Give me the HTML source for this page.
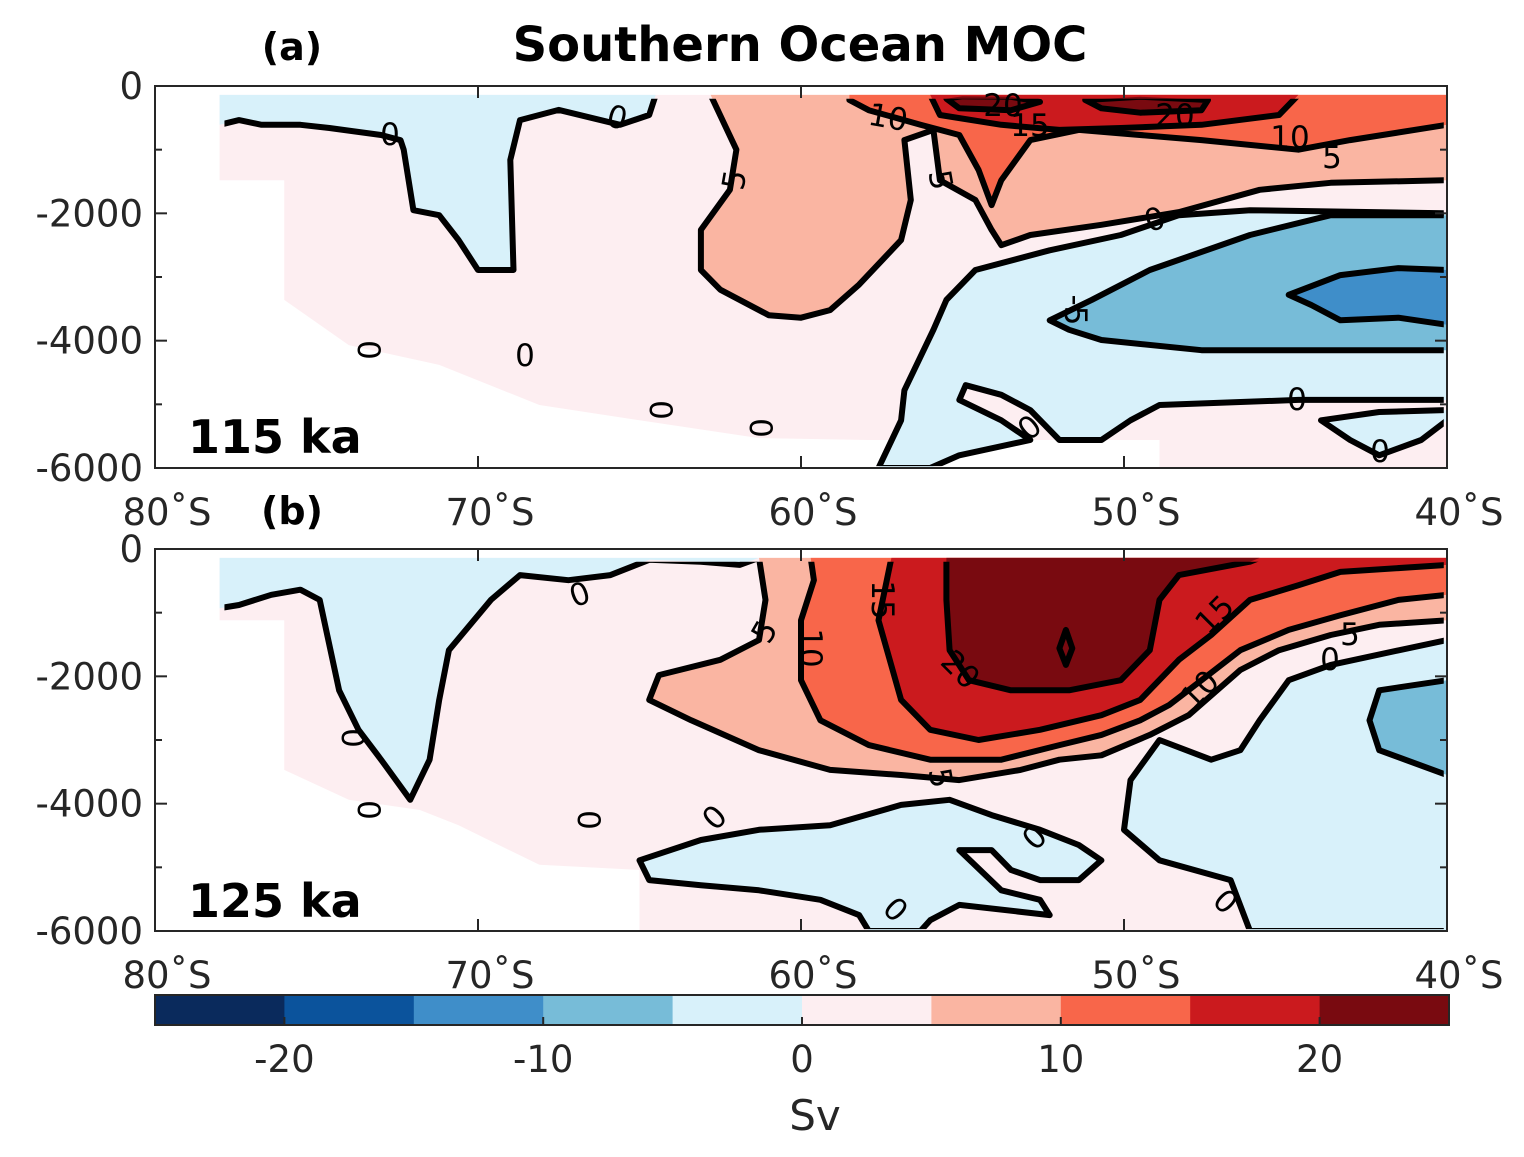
<!DOCTYPE html>
<html><head><meta charset="utf-8">
<style>
html,body{margin:0;padding:0;background:#fff;}
svg{display:block;font-family:"DejaVu Sans","Liberation Sans",sans-serif;}
</style></head>
<body>
<svg id="chart" width="1524" height="1157" viewBox="0 0 1524 1157">
<g id="panelA"></g>
<g id="panelB"></g>
<g id="cbar"></g>
<text x="800" y="61" font-size="48" font-weight="bold" text-anchor="middle">Southern Ocean MOC</text>
<text x="292" y="60" font-size="38" font-weight="bold" text-anchor="middle">(a)</text>
<text x="292" y="524" font-size="38" font-weight="bold" text-anchor="middle">(b)</text>
<text x="188" y="453" font-size="46" font-weight="bold">115 ka</text>
<text x="188" y="917" font-size="46" font-weight="bold">125 ka</text>
<text x="815" y="1130" font-size="42" fill="#262626" text-anchor="middle">Sv</text>
</svg>
<script>
// ---- data ----
const levels = [-25,-20,-15,-10,-5,0,5,10,15,20,25];
const levelColors = ['#0a2a5c','#0b539c','#3f8ec9','#77bcd8','#d8f1fa','#fdeef1','#fab5a2','#f8664a','#cb1a1e','#790a10'];
const xTicks = [-80,-70,-60,-50,-40];
const xTickLabels = ['80˚S','70˚S','60˚S','50˚S','40˚S'];
const yTicks = [0,-2000,-4000,-6000];
const cbTicks = [-20,-10,0,10,20];

const aPink = [[-78,-140],[-40,-140],[-40,-6000],[-48.9,-6000],[-48.9,-5560],[-57.9,-5560],[-61.3,-5530],[-65,-5250],[-68.1,-5010],[-71.2,-4380],[-74,-4070],[-76,-3360],[-76,-1480],[-78,-1480]];
const aBlueTL = [[-78,-140],[-64.5,-140],[-64.7,-455],[-65.6,-610],[-67.5,-375],[-68.7,-535],[-69,-1160],[-68.9,-2890],[-70,-2890],[-70.6,-2420],[-71.2,-2030],[-72,-1950],[-72.3,-1000],[-72.4,-850],[-73,-770],[-74.6,-660],[-75.5,-610],[-76.7,-610],[-77.4,-535],[-78,-610]];
const aSalmon = [[-62.8,-140],[-62,-1000],[-62.2,-1630],[-63.1,-2260],[-63.1,-2890],[-62.5,-3200],[-61,-3600],[-60,-3640],[-59.1,-3520],[-58.2,-3120],[-56.9,-2420],[-56.6,-1790],[-56.8,-850],[-55.9,-690],[-55.7,-1480],[-54.6,-1790],[-54.1,-2260],[-53.8,-2500],[-52.9,-2340],[-50.7,-2180],[-48.3,-1980],[-45.8,-1630],[-43.6,-1520],[-40,-1480],[-40,-140]];
const aRed = [[-58.5,-140],[-58.5,-220],[-57.9,-380],[-56.3,-610],[-55.1,-770],[-54.5,-1320],[-54.1,-1870],[-53.8,-1480],[-52.9,-850],[-51.4,-690],[-47.6,-850],[-44.6,-1000],[-43,-850],[-40,-610],[-40,-140]];
const aDark = [[-56,-140],[-55.7,-455],[-53.8,-610],[-52,-690],[-50.1,-660],[-47.6,-610],[-45.2,-455],[-44.6,-140]];
const aDarkest = [[-55.5,-200],[-55.1,-350],[-53.5,-380],[-52.6,-250],[-53.5,-170],[-55,-160]];
const aDarkest2 = [[-51.2,-220],[-50.7,-350],[-49.5,-420],[-47.6,-380],[-47.4,-220],[-49.5,-170]];
const aBlueR = [[-57.6,-6000],[-56.9,-5250],[-56.8,-4780],[-55.9,-3830],[-55.5,-3360],[-54.6,-2890],[-52.3,-2580],[-50.1,-2340],[-48.3,-2030],[-46.1,-1950],[-40,-2000],[-40,-4930],[-44.6,-4930],[-48.9,-5010],[-49.8,-5250],[-50.7,-5560],[-52,-5560],[-52.9,-5090],[-53.8,-4850],[-54.9,-4700],[-55.1,-4930],[-53.8,-5250],[-52.9,-5560],[-55.1,-5800],[-56,-6000]];
const aBlueBR = [[-43.9,-5250],[-43,-5560],[-42.1,-5800],[-40.8,-5560],[-40,-5250],[-40,-5090],[-42.1,-5120]];
const aMidBlue = [[-52.3,-3680],[-51,-3360],[-49.2,-2890],[-46.1,-2340],[-43.6,-2030],[-40,-2030],[-40,-4150],[-43,-4150],[-47.6,-4150],[-50.7,-3990],[-51.7,-3830]];
const aDeepBlue = [[-44.9,-3280],[-43.3,-2970],[-41.5,-2860],[-40,-2890],[-40,-3750],[-41.5,-3640],[-43.3,-3680],[-44.2,-3440]];

const bPink = [[-78,-140],[-40,-140],[-40,-6000],[-65,-6000],[-65,-5040],[-68.1,-4960],[-70.6,-4340],[-71.8,-4100],[-74,-3940],[-76,-3470],[-76,-1120],[-78,-1120]];
const bBlueTL = [[-78,-140],[-61.3,-140],[-61.9,-250],[-63.1,-200],[-64.7,-170],[-65.9,-410],[-67.2,-490],[-68.7,-410],[-69.6,-800],[-70.9,-1590],[-71.2,-2370],[-71.5,-3310],[-72.1,-3940],[-73,-3310],[-73.7,-2840],[-74.3,-2220],[-74.9,-800],[-75.5,-640],[-76.4,-720],[-77.4,-880],[-78,-930]];
const bSalmon = [[-61.3,-140],[-61.1,-800],[-61.3,-1430],[-62.5,-1740],[-64.4,-1980],[-64.7,-2370],[-63.4,-2690],[-61.3,-3160],[-59.1,-3470],[-56.9,-3550],[-55.1,-3630],[-53.2,-3470],[-52,-3310],[-50.7,-3240],[-49.2,-2920],[-48,-2610],[-46.4,-1900],[-45.2,-1590],[-43.6,-1350],[-42.1,-1190],[-40,-1120],[-40,-140]];
const bRed = [[-59.7,-140],[-59.6,-490],[-60,-1120],[-60,-2060],[-59.4,-2690],[-57.9,-3080],[-56,-3310],[-53.8,-3310],[-52,-3080],[-50.7,-2920],[-49.5,-2690],[-48.6,-2450],[-47.6,-2060],[-46.4,-1590],[-44.9,-1270],[-43.3,-1040],[-41.5,-800],[-40,-720],[-40,-140]];
const bDark = [[-57.2,-140],[-57.6,-1120],[-56.9,-2370],[-56,-2840],[-54.5,-3000],[-52.6,-2840],[-50.7,-2610],[-49.5,-2370],[-48.3,-1740],[-47.3,-1350],[-46.1,-800],[-44.6,-570],[-43.3,-360],[-40,-250],[-40,-140]];
const bDarkest = [[-55.5,-140],[-55.5,-800],[-55.4,-1590],[-54.8,-2060],[-53.5,-2220],[-51.7,-2220],[-50.1,-2060],[-49.2,-1590],[-48.9,-800],[-48.3,-410],[-46.1,-200],[-45.8,-140]];
const bDiamond = [[-51.8,-1270],[-51.6,-1560],[-51.8,-1820],[-52,-1560]];
const bBlueR = [[-40,-1430],[-43.6,-1820],[-44.9,-2060],[-45.8,-2690],[-46.4,-3160],[-47.3,-3310],[-48.9,-3000],[-49.8,-3630],[-50,-4410],[-48.9,-4890],[-46.7,-5200],[-46.1,-6000],[-40,-6000]];
const bMidBlue = [[-40,-2060],[-42.1,-2220],[-42.4,-2690],[-42.1,-3160],[-40,-3550]];
const bBlueBot = [[-65,-4890],[-63.1,-4570],[-61.3,-4410],[-59.1,-4340],[-56.9,-4020],[-55.4,-3940],[-54.1,-4180],[-52.6,-4410],[-51.4,-4650],[-50.7,-4890],[-51.4,-5200],[-52.6,-5200],[-53.5,-5040],[-54.1,-4730],[-55.1,-4730],[-53.8,-5360],[-52.6,-5510],[-52.3,-5750],[-55.1,-5590],[-56,-5830],[-56.3,-6000],[-57.9,-6000],[-58.2,-5750],[-59.4,-5510],[-61.3,-5360],[-63.1,-5280],[-64.7,-5200]];

const aLabels = [['0',390,135,0],['0',617,118,15],['5',735,180,-80],['10',888,118,10],['20',1003,106,0],['15',1030,126,0],['20',1175,116,0],['10',1290,138,0],['5',1332,158,0],['5',940,180,80],['0',1155,220,-20],['-5',1075,310,90],['0',525,356,0],['0',368,350,90],['0',660,410,90],['0',760,428,90],['0',1030,428,-40],['0',1297,400,0],['0',1380,452,0]];
const bLabels = [['0',580,595,-20],['5',765,632,-60],['10',810,648,90],['15',882,600,90],['20',960,670,45],['15',1215,615,-45],['5',1350,635,0],['0',1330,660,0],['10',1200,690,-45],['5',940,778,80],['0',352,738,90],['0',368,810,90],['0',588,820,90],['0',715,818,-45],['0',1035,838,-45],['0',895,910,45],['0',1225,902,45]];

// ---- drawing ----
const NS='http://www.w3.org/2000/svg';
const X0=155, X1=1447;
function X(lat){return X0+(lat+80)/40*(X1-X0);}
function mk(tag,attrs,parent){const e=document.createElementNS(NS,tag);for(const k in attrs)e.setAttribute(k,attrs[k]);parent.appendChild(e);return e;}

function drawPanel(g, top, regions, labels, id){
  const bot=top+382;
  const Y=d=>top+(-d)/6000*(bot-top);
  const pts=a=>a.map(p=>X(p[0]).toFixed(1)+','+Y(p[1]).toFixed(1)).join(' ');
  const cp=mk('clipPath',{id:'clip'+id},g);
  mk('rect',{x:X(-77.85),y:Y(-200),width:X(-40.1)-X(-77.85),height:Y(-5970)-Y(-200)},cp);
  const fills=mk('g',{},g);
  
  
  const lines=mk('g',{'clip-path':'url(#clip'+id+')'},g);
  
  
  regions.forEach(r=>{
    const p=mk('polygon',{points:pts(r.data),fill:r.level===null?'none':levelColors[r.level]},fills);
    
    
    if(r.stroke){
      const l=mk('polygon',{points:pts(r.data),fill:'none',stroke:'#000','stroke-width':6,'stroke-linejoin':'round'},lines);
      
      
    }
  });
  labels.forEach(t=>{
    const e=mk('text',{x:t[1],y:t[2],'font-size':31,'text-anchor':'middle','dominant-baseline':'central',transform:'rotate('+t[3]+' '+t[1]+' '+t[2]+')'},g);
    e.textContent=t[0];
    
    
  });
  const ax=mk('rect',{x:X0,y:top,width:X1-X0,height:bot-top,fill:'none',stroke:'#262626','stroke-width':2},g);
  
  
  for(let d=0; d>=-6000; d-=1000){
    const y=Y(d), len=(d%2000===0)?12:7;
    mk('line',{x1:X0,y1:y,x2:X0+len,y2:y,stroke:'#262626','stroke-width':2},g);
    mk('line',{x1:X1,y1:y,x2:X1-len,y2:y,stroke:'#262626','stroke-width':2},g);
  }
  yTicks.forEach(d=>{
    const t=mk('text',{x:143,y:Y(d)+13,'font-size':37,fill:'#262626','text-anchor':'end'},g);
    t.textContent=String(d);
    
    
  });
  xTicks.forEach((lat,i)=>{
    const x=X(lat);
    mk('line',{x1:x,y1:bot,x2:x,y2:bot-12,stroke:'#262626','stroke-width':2},g);
    mk('line',{x1:x,y1:top,x2:x,y2:top+12,stroke:'#262626','stroke-width':2},g);
    const t=mk('text',{x:x+12,y:bot+57,'font-size':37,fill:'#262626','text-anchor':'middle'},g);
    t.textContent=xTickLabels[i];
    
    
  });
}

drawPanel(document.getElementById('panelA'),86,[
  {name:'pink-0-5',data:aPink,level:5,stroke:false},
  {name:'blue-topleft',data:aBlueTL,level:4,stroke:true},
  {name:'salmon-5-10',data:aSalmon,level:6,stroke:true},
  {name:'red-10-15',data:aRed,level:7,stroke:true},
  {name:'red-15-20',data:aDark,level:8,stroke:true},
  {name:'red-20-25-a',data:aDarkest,level:9,stroke:true},
  {name:'red-20-25-b',data:aDarkest2,level:9,stroke:true},
  {name:'blue-right',data:aBlueR,level:4,stroke:true},
  {name:'blue-bottomright',data:aBlueBR,level:4,stroke:true},
  {name:'blue-5-10',data:aMidBlue,level:3,stroke:true},
  {name:'blue-10-15',data:aDeepBlue,level:2,stroke:true}
],aLabels,'a');

drawPanel(document.getElementById('panelB'),549,[
  {name:'pink-0-5',data:bPink,level:5,stroke:false},
  {name:'blue-topleft',data:bBlueTL,level:4,stroke:true},
  {name:'salmon-5-10',data:bSalmon,level:6,stroke:true},
  {name:'red-10-15',data:bRed,level:7,stroke:true},
  {name:'red-15-20',data:bDark,level:8,stroke:true},
  {name:'red-20-25',data:bDarkest,level:9,stroke:true},
  {name:'max-contour',data:bDiamond,level:null,stroke:true},
  {name:'blue-right',data:bBlueR,level:4,stroke:true},
  {name:'blue-5-10',data:bMidBlue,level:3,stroke:true},
  {name:'blue-bottom',data:bBlueBot,level:4,stroke:true}
],bLabels,'b');

(function(){
  const g=document.getElementById('cbar');
  const cx0=155,cx1=1449,cy=995,ch=30;
  const C=v=>cx0+(v-levels[0])/(levels[levels.length-1]-levels[0])*(cx1-cx0);
  for(let i=0;i<levelColors.length;i++){
    const r=mk('rect',{x:C(levels[i]),y:cy,width:C(levels[i+1])-C(levels[i])+0.5,height:ch,fill:levelColors[i]},g);
    
    
  }
  mk('rect',{x:cx0,y:cy,width:cx1-cx0,height:ch,fill:'none',stroke:'#262626','stroke-width':2},g);
  cbTicks.forEach(v=>{
    mk('line',{x1:C(v),y1:cy+ch,x2:C(v),y2:cy+ch-8,stroke:'#262626','stroke-width':2},g);
    const t=mk('text',{x:C(v),y:1072,'font-size':37,fill:'#262626','text-anchor':'middle'},g);
    t.textContent=String(v);
    
    
  });
})();
</script>
</body></html>
